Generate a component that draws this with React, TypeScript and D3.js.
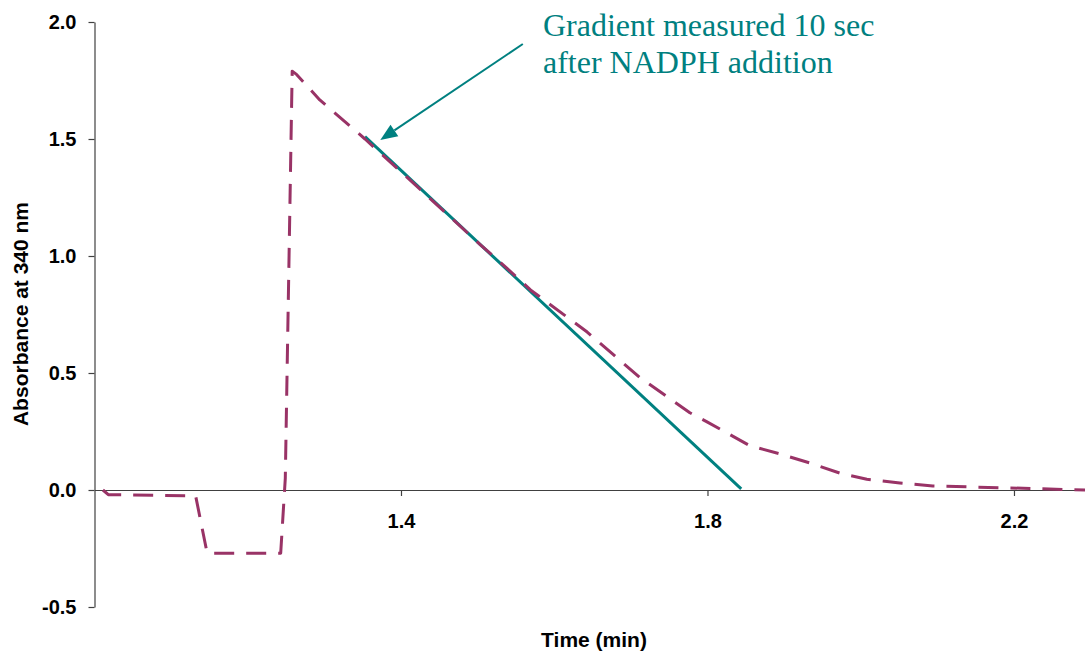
import React, { useEffect, useRef } from 'react';
import * as d3 from 'd3';

const WIDTH = 1085;
const HEIGHT = 654;

// absorbance trace (time in min, A340)
const traceTime = [
  1.011, 1.018, 1.132, 1.147, 1.243, 1.249, 1.258, 1.264, 1.294, 1.353, 1.4,
  1.503, 1.551, 1.569, 1.643, 1.712, 1.777, 1.8, 1.855, 1.899, 1.934,
  1.973, 2.008, 2.051, 2.094, 2.181, 2.293,
];
const traceAbs = [
  0.0, -0.02, -0.025, -0.27, -0.27, 0.05, 1.79, 1.775, 1.667, 1.5, 1.36,
  1.05, 0.91, 0.855, 0.675, 0.48, 0.33, 0.29, 0.19, 0.15, 0.115,
  0.072, 0.046, 0.03, 0.017, 0.01, 0.0,
];

// gradient fitted 10 sec after NADPH addition
const gradientTime = [1.353, 1.844];
const gradientAbs = [1.51, 0.005];

const xTicks = [1.4, 1.8, 2.2];
const yTicks = [-0.5, 0.0, 0.5, 1.0, 1.5, 2.0];

const noteLines = ['Gradient measured 10 sec', 'after NADPH addition'];
// arrow tail / tip in data units
const arrowFrom: [number, number] = [1.559, 1.906];
const arrowTo: [number, number] = [1.373, 1.496];

const MAGENTA = '#993366';
const TEAL = '#008080';
const AXIS = '#404040';

const fmt = (v: number) => v.toFixed(1);

export default function App(): JSX.Element {
  const svgRef = useRef<SVGSVGElement>(null);

  useEffect(() => {
    const svg = d3.select(svgRef.current);
    svg.selectAll('*').remove();

    const x = d3.scaleLinear().domain([1.0, 2.3]).range([94.5, 1090.6]);
    const y = d3.scaleLinear().domain([-0.5, 2.0]).range([607, 22]);

    const yAxis = d3
      .axisLeft(y)
      .tickValues(yTicks)
      .tickSize(6)
      .tickSizeOuter(0)
      .tickPadding(12)
      .tickFormat(fmt as any);
    const yG = svg.append('g').attr('transform', `translate(${x(1.0)},0)`).call(yAxis);

    const xAxis = d3
      .axisBottom(x)
      .tickValues(xTicks)
      .tickSize(6)
      .tickSizeOuter(0)
      .tickPadding(18)
      .tickFormat(fmt as any);
    const xG = svg.append('g').attr('transform', `translate(0,${y(0)})`).call(xAxis);

    [xG, yG].forEach((g) => {
      g.select('.domain').attr('stroke', AXIS).attr('stroke-width', 1.2);
      g.selectAll('.tick line').attr('stroke', AXIS).attr('stroke-width', 1.2);
      g.selectAll('.tick text')
        .attr('fill', '#000')
        .style('font-family', 'Liberation Sans, Arial, sans-serif')
        .style('font-weight', 'bold')
        .style('font-size', '20px');
    });

    const line = d3
      .line<[number, number]>()
      .x((d) => x(d[0]))
      .y((d) => y(d[1]));

    svg
      .append('path')
      .datum(gradientTime.map((t, i) => [t, gradientAbs[i]] as [number, number]))
      .attr('d', line)
      .attr('fill', 'none')
      .attr('stroke', TEAL)
      .attr('stroke-width', 3);

    svg
      .append('path')
      .datum(traceTime.map((t, i) => [t, traceAbs[i]] as [number, number]))
      .attr('d', line)
      .attr('fill', 'none')
      .attr('stroke', MAGENTA)
      .attr('stroke-width', 3)
      .attr('stroke-dasharray', '20 12')
      .attr('stroke-linejoin', 'round');

    // annotation arrow
    const x0 = x(arrowFrom[0]);
    const y0 = y(arrowFrom[1]);
    const x1 = x(arrowTo[0]);
    const y1 = y(arrowTo[1]);
    const ang = Math.atan2(y1 - y0, x1 - x0);
    const headLen = 17;
    const headW = 7;
    const bx = x1 - headLen * Math.cos(ang);
    const by = y1 - headLen * Math.sin(ang);
    svg
      .append('line')
      .attr('x1', x0)
      .attr('y1', y0)
      .attr('x2', bx)
      .attr('y2', by)
      .attr('stroke', TEAL)
      .attr('stroke-width', 2);
    svg
      .append('polygon')
      .attr(
        'points',
        [
          [x1, y1],
          [bx + headW * Math.sin(ang), by - headW * Math.cos(ang)],
          [bx - headW * Math.sin(ang), by + headW * Math.cos(ang)],
        ]
          .map((p) => p.join(','))
          .join(' '),
      )
      .attr('fill', TEAL);

    const note = svg
      .append('text')
      .attr('x', 543)
      .attr('y', 36)
      .attr('fill', TEAL)
      .style('font-family', 'Liberation Serif, Times New Roman, serif')
      .style('font-size', '32px');
    noteLines.forEach((s, i) => {
      note
        .append('tspan')
        .attr('x', 543)
        .attr('dy', i === 0 ? 0 : 37)
        .text(s);
    });

    svg
      .append('text')
      .attr('x', 594)
      .attr('y', 647)
      .attr('text-anchor', 'middle')
      .style('font-family', 'Liberation Sans, Arial, sans-serif')
      .style('font-weight', 'bold')
      .style('font-size', '21px')
      .text('Time (min)');

    svg
      .append('text')
      .attr('transform', 'translate(28,314) rotate(-90)')
      .attr('text-anchor', 'middle')
      .style('font-family', 'Liberation Sans, Arial, sans-serif')
      .style('font-weight', 'bold')
      .style('font-size', '21px')
      .text('Absorbance at 340 nm');
  }, []);

  return (
    <div style={{ position: 'absolute', left: 0, top: 0 }}>
      <svg ref={svgRef} width={WIDTH} height={HEIGHT} style={{ display: 'block', background: '#fff' }} />
    </div>
  );
}
